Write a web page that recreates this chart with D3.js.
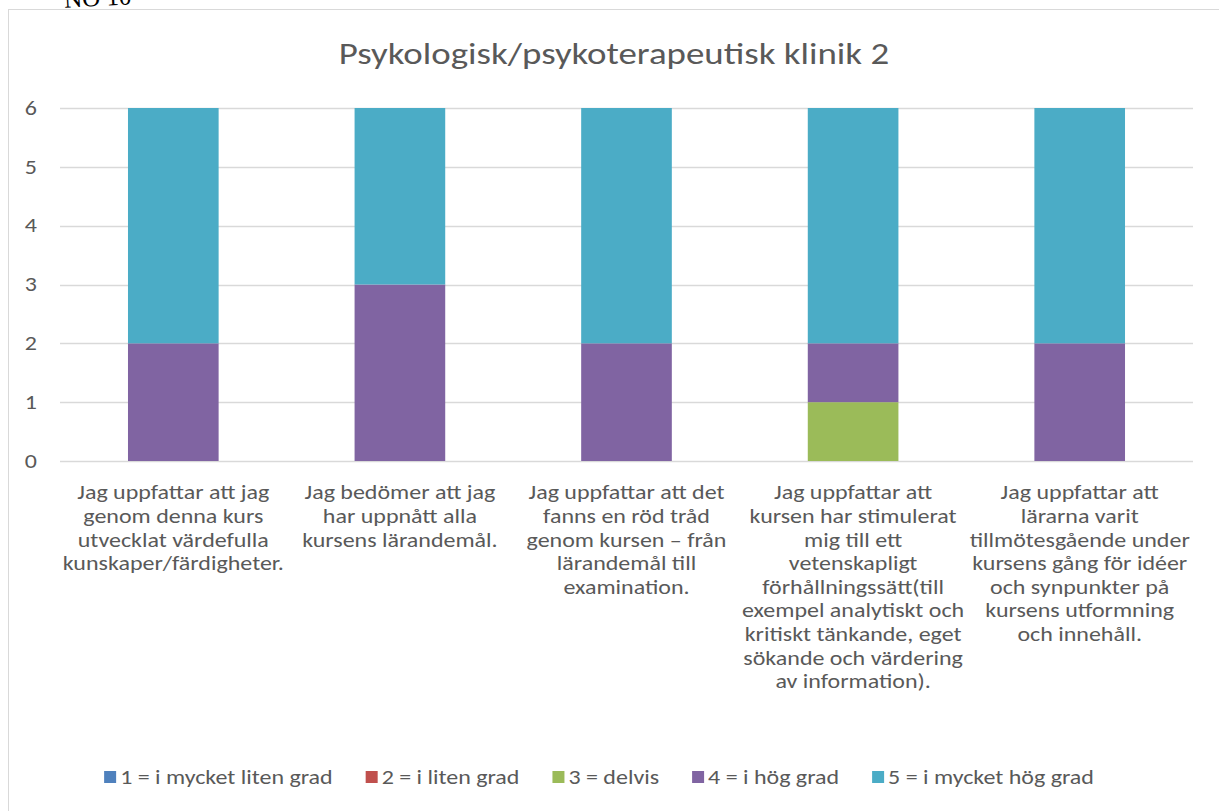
<!DOCTYPE html>
<html>
<head>
<meta charset="utf-8">
<script src="https://cdn.jsdelivr.net/npm/d3@7"></script>
<style>
  body { margin: 0; background: #fff; }
  text { font-family: Calibri, Carlito, Lato, sans-serif; fill: #595959; }
</style>
</head>
<body>
<div id="chart"></div>
<script>
// categories (wrapped the way the original chart shows them)
var categories = ["q1", "q2", "q3", "q4", "q5"];
var categoryLines = [
  ["Jag uppfattar att jag", "genom denna kurs", "utvecklat värdefulla", "kunskaper/färdigheter."],
  ["Jag bedömer att jag", "har uppnått alla", "kursens lärandemål."],
  ["Jag uppfattar att det", "fanns en röd tråd", "genom kursen – från", "lärandemål till", "examination."],
  ["Jag uppfattar att", "kursen har stimulerat", "mig till ett", "vetenskapligt", "förhållningssätt(till", "exempel analytiskt och", "kritiskt tänkande, eget", "sökande och värdering", "av information)."],
  ["Jag uppfattar att", "lärarna varit", "tillmötesgående under", "kursens gång för idéer", "och synpunkter på", "kursens utformning", "och innehåll."]
];

// series
var seriesNames = ["1 = i mycket liten grad", "2 = i liten grad", "3 = delvis", "4 = i hög grad", "5 = i mycket hög grad"];
var seriesColors = ["#4F81BD", "#C0504D", "#9BBB59", "#8064A2", "#4BACC6"];
var s1 = [0, 0, 0, 0, 0];
var s2 = [0, 0, 0, 0, 0];
var s3 = [0, 0, 0, 1, 0];
var s4 = [2, 3, 2, 1, 2];
var s5 = [4, 3, 4, 4, 4];
var yTicks = [0, 1, 2, 3, 4, 5, 6];

// the source picture is stretched sideways, so text is widened a bit
var sx = 1.23;

var W = 1219, H = 811;
var margin = {top: 108, right: 26, bottom: 350, left: 60},
    width = W - margin.left - margin.right,
    height = H - margin.top - margin.bottom;

var svg = d3.select("#chart").append("svg")
    .attr("width", W)
    .attr("height", H);

// chart frame (right and bottom edges fall outside the picture)
svg.append("rect")
    .attr("x", 8.5).attr("y", 9.5)
    .attr("width", 1240).attr("height", 830)
    .attr("fill", "none")
    .attr("stroke", "#d9d9d9");

// stray text cut off at the top edge
svg.append("text")
    .attr("x", 60).attr("y", 8)
    .attr("transform", "rotate(-3,60,8)")
    .style("font-family", "'Liberation Serif', serif")
    .style("font-size", "25px")
    .style("fill", "#000")
    .text("'NO 10");

var g = svg.append("g")
    .attr("transform", "translate(" + margin.left + "," + margin.top + ")");

var x = d3.scaleBand()
    .domain(categories)
    .range([0, width])
    .paddingInner(0.6)
    .paddingOuter(0.3);

var y = d3.scaleLinear()
    .domain([0, 6])
    .range([height, 0]);

// gridlines
g.selectAll(".grid")
    .data(yTicks)
  .enter().append("line")
    .attr("x1", 0).attr("x2", width)
    .attr("y1", function(d) { return Math.round(y(d)) + 0.5; })
    .attr("y2", function(d) { return Math.round(y(d)) + 0.5; })
    .attr("stroke", "#d9d9d9")
    .attr("stroke-width", 1.3);

// stack the data
var table = categories.map(function(c, i) {
  return {cat: c, s1: s1[i], s2: s2[i], s3: s3[i], s4: s4[i], s5: s5[i]};
});
var keys = ["s1", "s2", "s3", "s4", "s5"];
var stacked = d3.stack().keys(keys)(table);

g.selectAll(".layer")
    .data(stacked)
  .enter().append("g")
    .attr("fill", function(d, i) { return seriesColors[i]; })
  .selectAll("rect")
    .data(function(d) { return d; })
  .enter().append("rect")
    .attr("x", function(d) { return x(d.data.cat); })
    .attr("width", x.bandwidth())
    .attr("y", function(d) { return y(d[1]); })
    .attr("height", function(d) { return y(d[0]) - y(d[1]); });

// y axis
var yAxis = g.append("g")
    .call(d3.axisLeft(y).tickValues(yTicks).tickFormat(d3.format("d")).tickSize(0).tickPadding(23));
yAxis.select(".domain").remove();
yAxis.selectAll("text")
    .attr("x", -23 / sx)
    .attr("transform", "scale(" + sx + ",1)")
    .style("font-size", "19.5px")
    .style("fill", "#595959")
    .style("font-family", "Calibri, Carlito, Lato, sans-serif");

// x axis labels, multi-line
var xAxis = g.append("g")
    .attr("transform", "translate(0," + height + ")")
    .call(d3.axisBottom(x).tickSize(0).tickFormat(""));
xAxis.select(".domain").remove();
xAxis.selectAll(".tick").each(function(d, i) {
  var t = d3.select(this).append("text")
      .attr("text-anchor", "middle")
      .attr("transform", "scale(" + sx + ",1)")
      .style("font-size", "19.5px")
      .style("font-family", "Calibri, Carlito, Lato, sans-serif")
      .style("fill", "#595959");
  categoryLines[i].forEach(function(line, k) {
    t.append("tspan")
        .attr("x", 0)
        .attr("y", 38.5 + k * 23.6)
        .text(line);
  });
});

// title
svg.append("g")
    .attr("transform", "translate(614,64)")
  .append("text")
    .attr("text-anchor", "middle")
    .attr("transform", "scale(" + sx + ",1)")
    .style("font-size", "30px")
    .text("Psykologisk/psykoterapeutisk klinik 2");

// legend
var legend = svg.append("g");
var items = legend.selectAll(".item")
    .data(seriesNames)
  .enter().append("g");
items.append("rect")
    .attr("width", 12).attr("height", 12)
    .attr("y", -6)
    .attr("fill", function(d, i) { return seriesColors[i]; });
items.append("text")
    .attr("x", 16 / sx)
    .attr("dy", "0.35em")
    .attr("transform", "scale(" + sx + ",1)")
    .style("font-size", "19.5px")
    .text(function(d) { return d; });
var pos = 0, offsets = [];
items.each(function() {
  offsets.push(pos);
  pos += this.getBBox().width + 33;
});
var total = pos - 33;
items.attr("transform", function(d, i) { return "translate(" + offsets[i] + ",0)"; });
legend.attr("transform", "translate(" + (599 - total / 2) + ",777)");
</script>
</body>
</html>
